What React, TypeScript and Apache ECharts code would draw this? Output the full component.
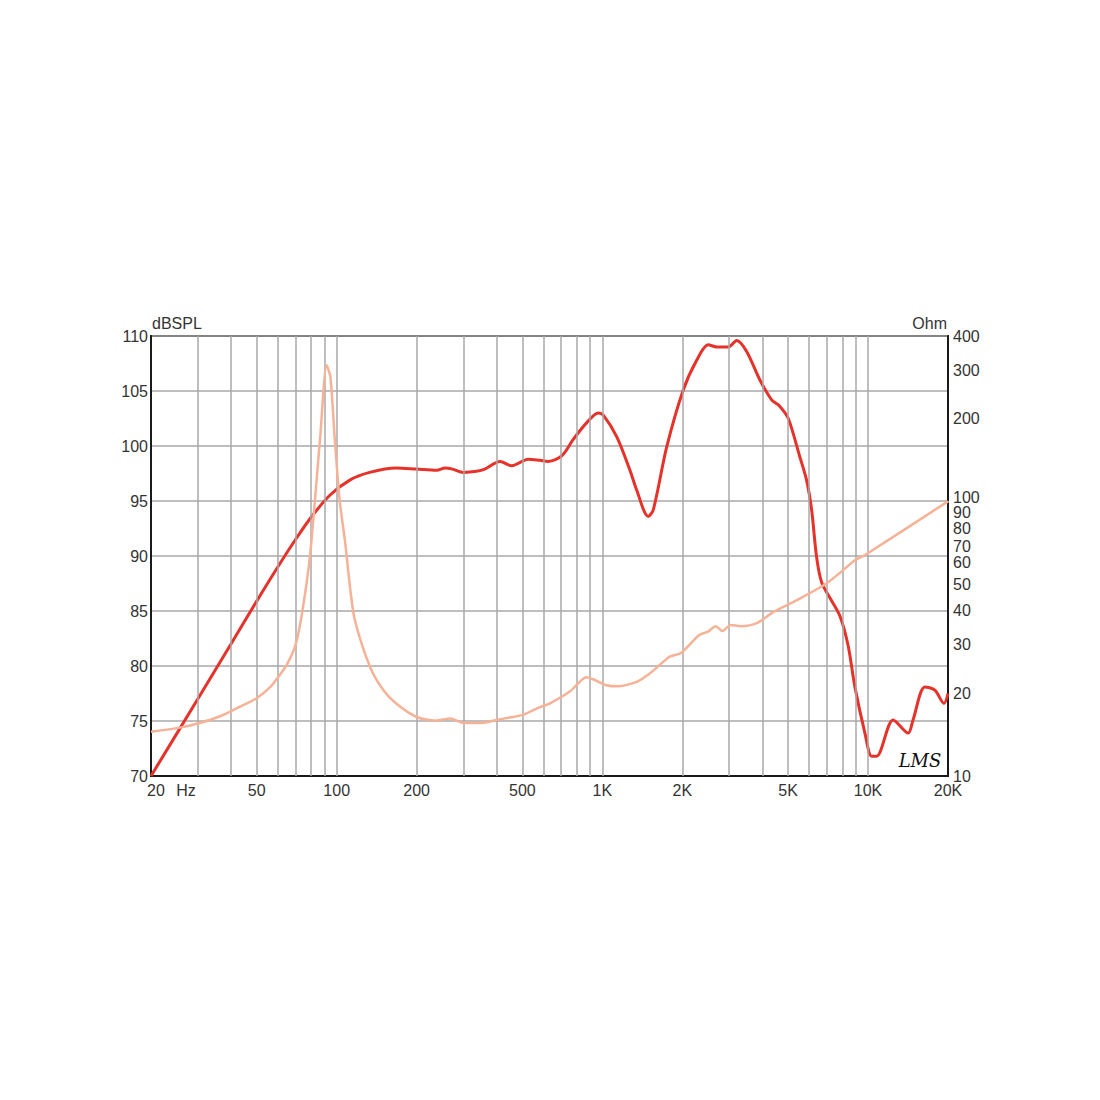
import React, { useEffect, useRef } from "react";
import * as echarts from "echarts";

// ---- Data ----
const SPL_FREQ = [20, 30, 40, 50, 60, 70, 80, 94, 112, 133, 168, 200, 238, 256, 273, 300, 336, 361, 412, 456, 526, 582, 626, 703, 777, 872, 965, 1008, 1132, 1270, 1346, 1488, 1555, 1746, 2016, 2265, 2504, 2693, 2978, 3203, 3492, 3918, 4336, 4658, 5010, 5540, 5870, 6133, 6404, 6690, 7185, 7850, 8425, 8925, 9734, 10316, 10770, 12440, 14160, 14770, 16370, 17850, 19310, 20000];
const SPL_DB = [70, 77.0, 82.0, 85.9, 89.0, 91.5, 93.5, 95.5, 96.9, 97.6, 98.0, 97.9, 97.8, 98.0, 97.9, 97.6, 97.7, 97.9, 98.6, 98.2, 98.8, 98.7, 98.6, 99.1, 100.6, 102.1, 103.0, 102.8, 100.85, 97.8, 96.0, 93.6, 94.2, 99.9, 105.1, 107.8, 109.2, 109.0, 109.0, 109.6, 108.6, 106.0, 104.2, 103.6, 102.5, 99.0, 96.9, 94.2, 89.9, 87.6, 86.2, 84.5, 81.8, 78.1, 73.9, 71.8, 71.8, 75.1, 73.9, 75.1, 78.1, 77.8, 76.6, 77.5];

const IMP_FREQ = [20, 25.7, 30.5, 36.4, 43.3, 50, 56.3, 60, 65, 70, 74, 79.3, 86.5, 91.7, 94.7, 98.4, 102.6, 107.4, 112.6, 117, 133.4, 149.5, 167, 200, 236, 267, 300, 345, 412, 503, 581, 635, 754, 872, 922, 1038, 1132, 1346, 1515, 1646, 1793, 1982, 2315, 2490, 2670, 2830, 3040, 3320, 3830, 4410, 5400, 6990, 8960, 9750, 20000];
const IMP_OHM = [14.5, 15.0, 15.6, 16.5, 17.9, 19.2, 21.1, 22.8, 25.5, 30, 39, 63, 167, 313, 284, 167, 101, 72, 47.5, 37, 25, 20.6, 18.4, 16.4, 15.9, 16.2, 15.6, 15.6, 16.1, 16.7, 17.8, 18.4, 20.3, 22.9, 22.5, 21.4, 21.2, 22.0, 23.7, 25.4, 27.2, 28.1, 32.6, 33.5, 35.1, 33.7, 35.5, 35.1, 36.1, 39.6, 43.7, 50.3, 61.1, 63.8, 100];

const GRID_FREQS = [30, 40, 50, 60, 70, 80, 90, 100, 200, 300, 400, 500, 600, 700, 800, 900, 1000, 2000, 3000, 4000, 5000, 6000, 7000, 8000, 9000, 10000];
const X_LABEL_FREQS = [50, 100, 200, 500, 1000, 2000, 5000, 10000, 20000];
const X_LABEL_TEXTS = ["50", "100", "200", "500", "1K", "2K", "5K", "10K", "20K"];
const RIGHT_TICKS = [10, 20, 30, 40, 50, 60, 70, 80, 90, 100, 200, 300, 400];
// small vertical nudges so the crowded labels 100/90/80/70 stay readable (as in the reference)
const RIGHT_TICK_NUDGE = [0, 0, 0, 0, 0, 0, 3, 1, -1, -4, 0, 0, 0];

const FONT = "'Liberation Sans', Arial, sans-serif";
const TEXT_COLOR = "#333333";
const GRID_COLOR = "#a8a8a8";

export default function App() {
  const ref = useRef<HTMLDivElement>(null);

  useEffect(() => {
    if (!ref.current) return;
    const chart = echarts.init(ref.current, null, { renderer: "svg" });
    const option: any = {
      animation: false,
      backgroundColor: "#ffffff",
      grid: {
        left: 151,
        right: 152,
        top: 336,
        bottom: 324,
        show: true,
        borderColor: "#1a1a1a",
        borderWidth: 2,
      },
      xAxis: {
        type: "log",
        logBase: 10,
        min: 20,
        max: 20000,
        axisLine: { show: true, lineStyle: { color: "#1a1a1a", width: 2 } },
        axisTick: { show: false },
        axisLabel: { show: false },
        splitLine: { show: false },
      },
      yAxis: [
        {
          type: "value",
          min: 70,
          max: 110,
          interval: 5,
          axisLine: { show: true, lineStyle: { color: "#1a1a1a", width: 2 } },
          axisTick: { show: false },
          axisLabel: { color: TEXT_COLOR, fontSize: 16, fontFamily: FONT, margin: 3 },
          splitLine: { show: true, lineStyle: { color: GRID_COLOR, width: 1.5 } },
        },
        {
          type: "log",
          logBase: 10,
          min: 10,
          max: 400,
          position: "right",
          axisLine: { show: true, lineStyle: { color: "#1a1a1a", width: 2 } },
          axisTick: { show: false },
          axisLabel: { show: false },
          splitLine: { show: false },
        },
      ],
      series: [
        {
          type: "line",
          data: [],
          z: 1,
          silent: true,
          markLine: {
            silent: true,
            symbol: ["none", "none"],
            label: { show: false },
            emphasis: { disabled: true },
            lineStyle: { color: GRID_COLOR, width: 1.5, type: "solid" },
            data: GRID_FREQS.map((f) => ({ xAxis: f })),
          },
        },
        {
          name: "SPL",
          type: "line",
          data: SPL_FREQ.map((f, i) => [f, SPL_DB[i]]),
          showSymbol: false,
          smooth: 0.3,
          z: 4,
          lineStyle: { color: "#e5322a", width: 3 },
        },
        {
          name: "Impedance",
          type: "line",
          yAxisIndex: 1,
          data: IMP_FREQ.map((f, i) => [f, IMP_OHM[i]]),
          showSymbol: false,
          smooth: 0.25,
          z: 5,
          lineStyle: { color: "#f6b297", width: 2.5 },
        },
      ],
    };
    chart.setOption(option);

    const px = (f: number) => chart.convertToPixel({ xAxisIndex: 0 }, f) as number;
    const pyL = (v: number) => chart.convertToPixel({ yAxisIndex: 0 }, v) as number;
    const pyR = (v: number) => chart.convertToPixel({ yAxisIndex: 1 }, v) as number;

    const baseY = pyL(70);
    const topY = pyL(110);
    const leftX = px(20);
    const rightX = px(20000);
    const textStyle = (extra: any) => ({
      fill: TEXT_COLOR,
      fontSize: 16,
      fontFamily: FONT,
      ...extra,
    });

    const elements: any[] = [];
    X_LABEL_FREQS.forEach((f, i) => {
      elements.push({
        type: "text",
        x: px(f),
        y: baseY + 14,
        style: textStyle({ text: X_LABEL_TEXTS[i], align: "center", verticalAlign: "middle" }),
      });
    });
    elements.push({
      type: "text",
      x: leftX + 5,
      y: baseY + 14,
      style: textStyle({ text: "20", align: "center", verticalAlign: "middle" }),
    });
    elements.push({
      type: "text",
      x: leftX + 35,
      y: baseY + 14,
      style: textStyle({ text: "Hz", align: "center", verticalAlign: "middle" }),
    });
    RIGHT_TICKS.forEach((v, i) => {
      elements.push({
        type: "text",
        x: rightX + 5,
        y: pyR(v) + RIGHT_TICK_NUDGE[i],
        style: textStyle({
          text: String(v),
          align: "left",
          verticalAlign: "middle",
          lineHeight: 11,
        }),
      });
    });
    elements.push({
      type: "text",
      x: leftX + 1,
      y: topY - 13,
      style: textStyle({ text: "dBSPL", align: "left", verticalAlign: "middle" }),
    });
    elements.push({
      type: "text",
      x: rightX - 1,
      y: topY - 13,
      style: textStyle({ text: "Ohm", align: "right", verticalAlign: "middle" }),
    });
    elements.push({
      type: "text",
      x: rightX - 28,
      y: baseY - 16,
      style: {
        text: "LMS",
        fill: "#111111",
        fontSize: 18,
        fontStyle: "italic",
        fontFamily: "'DejaVu Serif', serif",
        align: "center",
        verticalAlign: "middle",
      },
    });
    chart.setOption({ graphic: { elements } });

    return () => chart.dispose();
  }, []);

  return (
    <div
      ref={ref}
      style={{ position: "fixed", left: 0, top: 0, width: 1100, height: 1100, background: "#fff" }}
    />
  );
}
